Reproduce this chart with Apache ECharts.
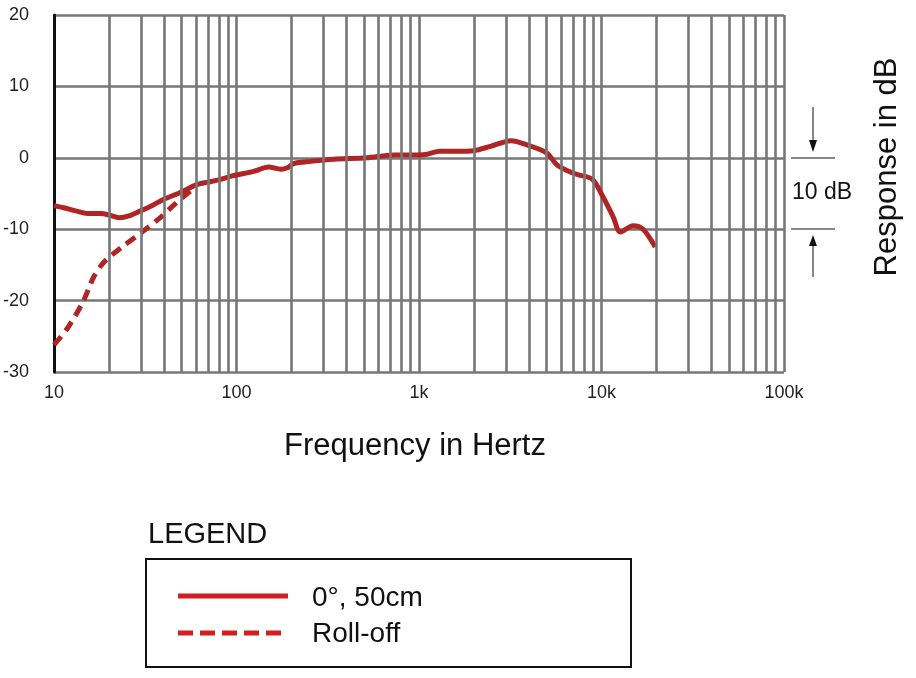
<!DOCTYPE html>
<html>
<head>
<meta charset="utf-8">
<title>Frequency response</title>
<script src="https://cdn.jsdelivr.net/npm/echarts@6/dist/echarts.min.js"></script>
<style>
  html, body { margin: 0; padding: 0; background: #fff; }
  #main { width: 916px; height: 678px; }
</style>
</head>
<body>
<div id="main"></div>
<script type="text/javascript">
// values: [frequency Hz, response dB]
var response0 = [
  [10, -6.7], [11.3, -7.0], [13, -7.4], [15.3, -7.8], [18, -7.8], [20, -8.0],
  [22.7, -8.4], [26, -8.1], [30, -7.4], [35, -6.6], [40, -5.8], [50, -4.8],
  [60, -3.8], [70, -3.4], [80, -3.1], [96, -2.5], [124, -1.9], [150, -1.3],
  [175, -1.6], [190, -1.4], [206, -0.8], [255, -0.5], [340, -0.2], [520, 0.0],
  [725, 0.4], [1000, 0.4], [1110, 0.5], [1300, 0.9], [1600, 0.9], [2000, 1.0],
  [2460, 1.6], [3200, 2.4], [3900, 1.8], [5000, 0.7], [5700, -1.0], [6500, -1.8],
  [7500, -2.4], [8900, -3.0], [10200, -5.5], [11600, -8.3], [12700, -10.4],
  [14900, -9.5], [16900, -10.0], [19700, -12.5]
];
var rollOff = [
  [10, -26.2], [11.9, -23.8], [14.4, -20.2], [16.5, -16.7], [18.8, -14.6],
  [23.3, -12.6], [30, -10.5], [38.5, -8.3], [45, -6.7], [52.7, -5.2], [58, -4.4]
];
var decades = [10, 100, 1000, 10000];
var multipliers = [2, 3, 4, 5, 6, 7, 8, 9];
var xTickLabels = { 10: '10', 100: '100', 1000: '1k', 10000: '10k', 100000: '100k' };
var seriesNames = ['0°, 50cm', 'Roll-off'];

var gridFreqs = [];
decades.forEach(function (d) {
  multipliers.forEach(function (m) { gridFreqs.push({ xAxis: d * m }); });
});

var gridGray = '#777777';
var lineRed = '#b02424';
var legendRed = '#d21e1e';
var font = 'Liberation Sans';

var myChart = echarts.init(document.getElementById('main'));
var option = {
  backgroundColor: '#ffffff',
  animation: false,
  grid: { left: 53, top: 15, width: 731, height: 357 },
  xAxis: {
    type: 'log', logBase: 10, min: 10, max: 100000,
    axisLine: { show: false },
    axisTick: { show: false },
    axisLabel: {
      margin: 12, color: '#222', fontSize: 18, fontFamily: font,
      formatter: function (v) { return xTickLabels[Math.round(v)] || ''; }
    },
    splitLine: { show: true, lineStyle: { color: gridGray, width: 2.6 } }
  },
  yAxis: {
    type: 'value', min: -30, max: 20, interval: 10,
    axisLine: { show: true, lineStyle: { color: '#111', width: 3 } },
    axisTick: { show: false },
    axisLabel: { margin: 25, color: '#222', fontSize: 18, fontFamily: font },
    splitLine: { show: true, lineStyle: { color: gridGray, width: 2.6 } }
  },
  series: [
    {
      name: 'grid', type: 'line', data: [], silent: true,
      markLine: {
        silent: true, symbol: ['none', 'none'], label: { show: false },
        lineStyle: { color: gridGray, width: 2.6, type: 'solid' },
        data: gridFreqs
      }
    },
    {
      name: seriesNames[1], type: 'line', data: rollOff, smooth: 0.3,
      showSymbol: false, z: 3,
      lineStyle: { color: lineRed, width: 5, type: [11, 7] }
    },
    {
      name: seriesNames[0], type: 'line', data: response0, smooth: 0.3,
      showSymbol: false, z: 4,
      lineStyle: { color: lineRed, width: 5 }
    }
  ],
  graphic: [
    { type: 'text', x: 415, y: 446,
      style: { text: 'Frequency in Hertz', font: '31px ' + font, fill: '#111',
               align: 'center', verticalAlign: 'middle' } },
    { type: 'text', x: 887, y: 167, rotation: Math.PI / 2,
      style: { text: 'Response in dB', font: '31px ' + font, fill: '#111',
               align: 'center', verticalAlign: 'middle' } },
    // 10 dB scale marker
    { type: 'line', shape: { x1: 791, y1: 158, x2: 835, y2: 158 }, style: { stroke: '#111', lineWidth: 1 } },
    { type: 'line', shape: { x1: 791, y1: 229, x2: 835, y2: 229 }, style: { stroke: '#111', lineWidth: 1 } },
    { type: 'line', shape: { x1: 813, y1: 107, x2: 813, y2: 146 }, style: { stroke: '#111', lineWidth: 1 } },
    { type: 'polygon', shape: { points: [[809, 140], [817, 140], [813, 152]] }, style: { fill: '#111' } },
    { type: 'line', shape: { x1: 813, y1: 246, x2: 813, y2: 277 }, style: { stroke: '#111', lineWidth: 1 } },
    { type: 'polygon', shape: { points: [[809, 246], [817, 246], [813, 235]] }, style: { fill: '#111' } },
    { type: 'text', x: 822, y: 193,
      style: { text: '10 dB', font: '23px ' + font, fill: '#111', align: 'center', verticalAlign: 'middle' } },
    // legend
    { type: 'text', x: 148, y: 535,
      style: { text: 'LEGEND', font: '29px ' + font, fill: '#111', verticalAlign: 'middle' } },
    { type: 'rect', shape: { x: 146, y: 559, width: 485, height: 108 },
      style: { fill: 'none', stroke: '#111', lineWidth: 2 } },
    { type: 'line', shape: { x1: 178, y1: 596, x2: 288, y2: 596 },
      style: { stroke: legendRed, lineWidth: 5 } },
    { type: 'line', shape: { x1: 178, y1: 633, x2: 282, y2: 633 },
      style: { stroke: legendRed, lineWidth: 5, lineDash: [15, 7] } },
    { type: 'text', x: 312, y: 598,
      style: { text: seriesNames[0], font: '28px ' + font, fill: '#111', verticalAlign: 'middle' } },
    { type: 'text', x: 312, y: 634,
      style: { text: seriesNames[1], font: '28px ' + font, fill: '#111', verticalAlign: 'middle' } }
  ]
};
myChart.setOption(option);
</script>
</body>
</html>
